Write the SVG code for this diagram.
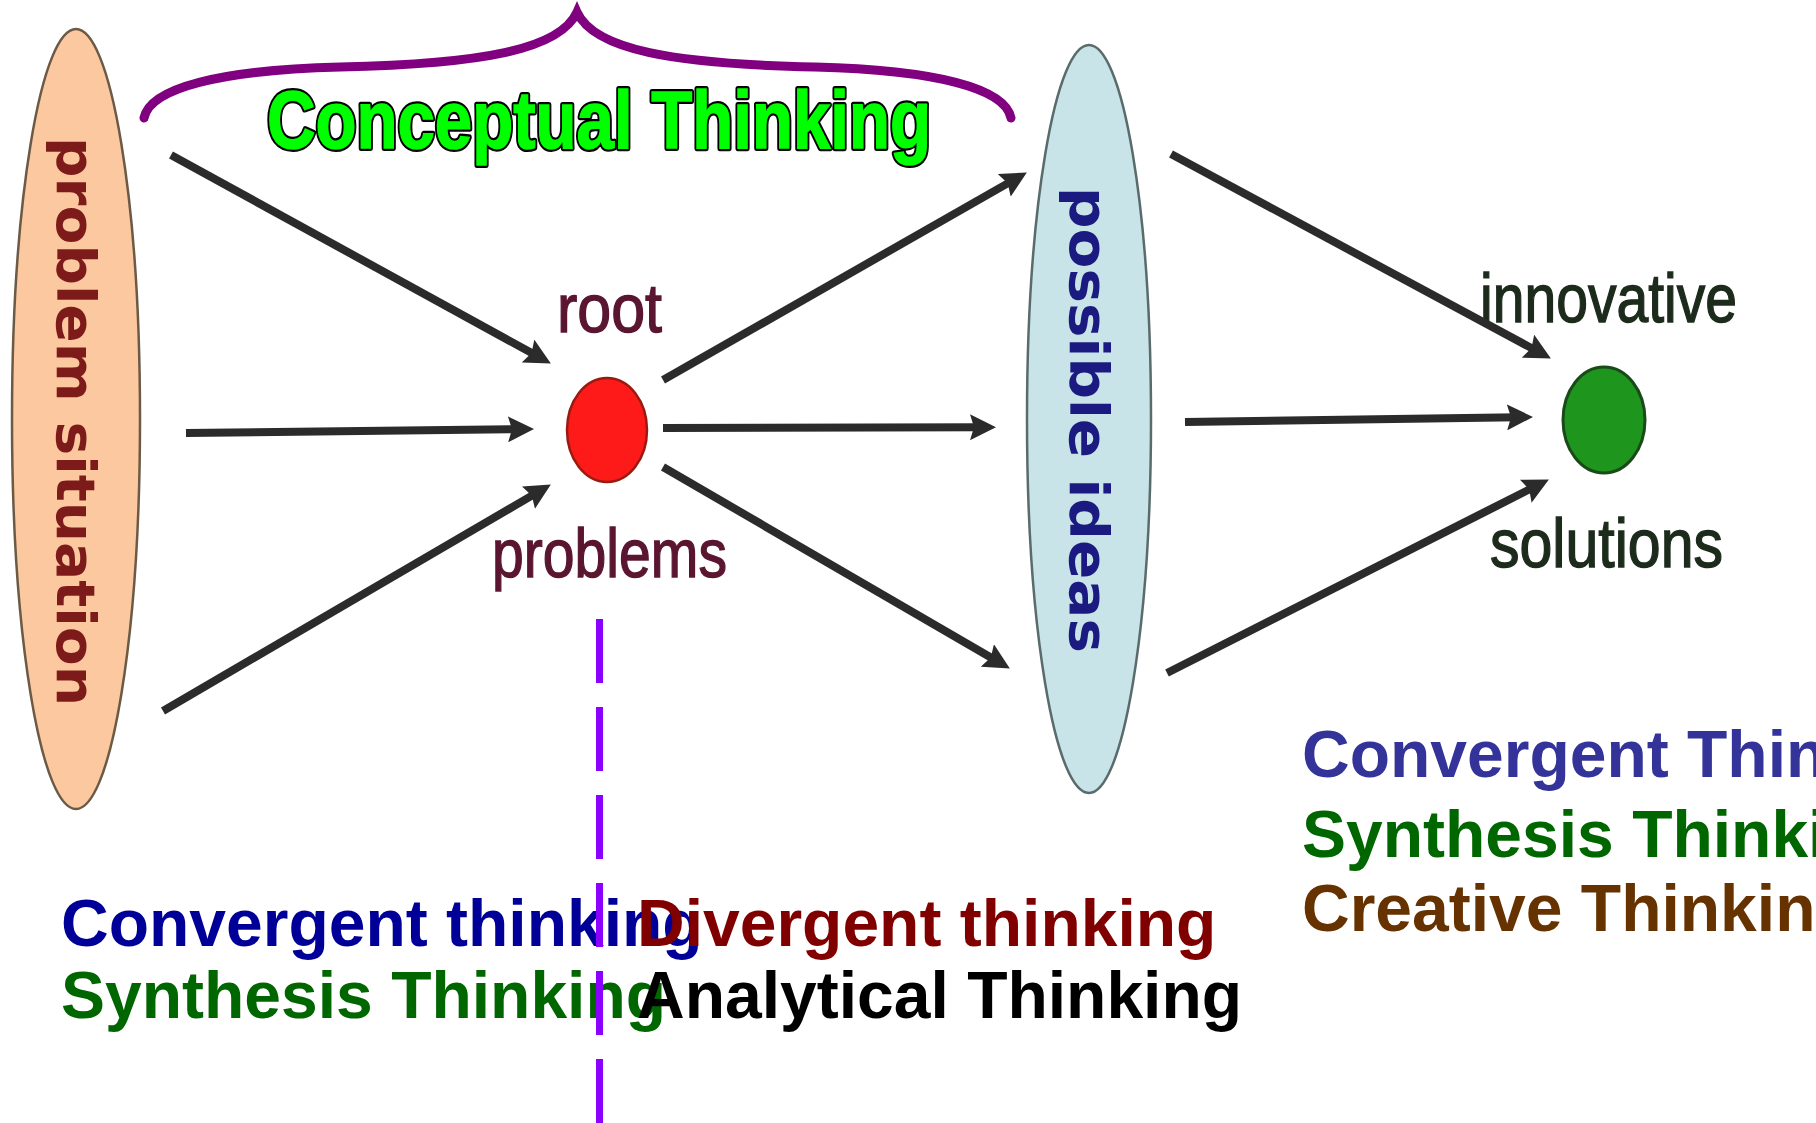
<svg xmlns="http://www.w3.org/2000/svg" width="1816" height="1123" viewBox="0 0 1816 1123">
<style>
.arrow{stroke:#2b2b2b;stroke-width:8;fill:none;marker-end:url(#head)}
.vert{font-family:"DejaVu Sans",Verdana,sans-serif;font-weight:bold;font-size:54px}
.lbl{font-family:"Liberation Sans",Arial,sans-serif;font-size:68px;stroke-width:1.4}
.big{font-family:"Liberation Sans",Arial,sans-serif;font-weight:bold;font-size:66px}
.title{font-family:"Liberation Sans",Arial,sans-serif;font-weight:bold;font-size:81px}
</style>
<defs>
<marker id="head" viewBox="0 0 26 26" refX="11" refY="13" markerWidth="26" markerHeight="26" markerUnits="userSpaceOnUse" orient="auto">
<path d="M0,0 L26,13 L0,26 L4,13 Z" fill="#2b2b2b"/>
</marker>
</defs>
<rect width="1816" height="1123" fill="#ffffff"/>

<g id="brace">
<path d="M144,118 C150,88 220,70 340,67 C480,64 560,50 577,12 C594,50 674,64 815,67 C935,70 1005,88 1011,118" fill="none" stroke="#800080" stroke-width="9" stroke-linecap="round"/>
<text class="title" x="267" y="148" textLength="664" lengthAdjust="spacingAndGlyphs" fill="#000000" stroke="#000000" stroke-width="6" stroke-linejoin="round">Conceptual Thinking</text>
<text class="title" x="267" y="148" textLength="664" lengthAdjust="spacingAndGlyphs" fill="#00ff00" stroke="#00ff00" stroke-width="1.5">Conceptual Thinking</text>
</g>

<g id="problem-situation">
<ellipse cx="76" cy="419" rx="64" ry="390" fill="#fbc8a0" stroke="#6b5a45" stroke-width="2.5"/>
<text class="vert" transform="translate(57,137) rotate(90)" x="0" y="0" fill="#7d1b1b" textLength="569" lengthAdjust="spacingAndGlyphs">problem situation</text>
</g>

<g id="root-problems">
<ellipse cx="607" cy="430" rx="40" ry="52" fill="#ff1a1a" stroke="#9a1a10" stroke-width="2.5"/>
<text class="lbl" x="557" y="332" fill="#5a1530" stroke="#5a1530" textLength="105" lengthAdjust="spacingAndGlyphs">root</text>
<text class="lbl" x="492" y="577" fill="#5a1530" stroke="#5a1530" textLength="235" lengthAdjust="spacingAndGlyphs">problems</text>
</g>

<g id="possible-ideas">
<ellipse cx="1089" cy="419" rx="62" ry="374" fill="#c8e4e8" stroke="#5a6b6b" stroke-width="2.5"/>
<text class="vert" transform="translate(1070,187) rotate(90)" x="0" y="0" fill="#1a1a80" textLength="466" lengthAdjust="spacingAndGlyphs">possible ideas</text>
</g>

<g id="innovative-solutions">
<ellipse cx="1604" cy="420" rx="41" ry="53" fill="#1e961e" stroke="#1a4a1a" stroke-width="3"/>
<text class="lbl" x="1480" y="322" fill="#1c2b1c" stroke="#1c2b1c" textLength="257" lengthAdjust="spacingAndGlyphs">innovative</text>
<text class="lbl" x="1490" y="567" fill="#1c2b1c" stroke="#1c2b1c" textLength="233" lengthAdjust="spacingAndGlyphs">solutions</text>
</g>

<g id="connectors">
<line class="arrow" x1="171" y1="155" x2="537.7" y2="356.3"/>
<line class="arrow" x1="186" y1="433" x2="519" y2="429.2"/>
<line class="arrow" x1="163" y1="711" x2="537.9" y2="492.1"/>
<line class="arrow" x1="663" y1="380" x2="1013.8" y2="179.9"/>
<line class="arrow" x1="663" y1="428" x2="981" y2="427.2"/>
<line class="arrow" x1="663" y1="467" x2="996.9" y2="661"/>
<line class="arrow" x1="1171" y1="154" x2="1537.7" y2="351.4"/>
<line class="arrow" x1="1185" y1="422" x2="1518" y2="417.2"/>
<line class="arrow" x1="1167" y1="673" x2="1535.5" y2="486.3"/>
</g>

<g id="left-labels">
<text class="big" x="61" y="946" fill="#000099">Convergent thinking</text>
<text class="big" x="61" y="1018" fill="#006600">Synthesis Thinking</text>
</g>
<g id="middle-labels">
<text class="big" x="637" y="946" fill="#800000">Divergent thinking</text>
<text class="big" x="637" y="1018" fill="#000000">Analytical Thinking</text>
</g>
<g id="right-labels">
<text class="big" x="1302" y="777" fill="#333399">Convergent Thinking</text>
<text class="big" x="1302" y="857" fill="#006600">Synthesis Thinking</text>
<text class="big" x="1302" y="931" fill="#663300">Creative Thinking</text>
</g>

<g id="divider">
<line x1="599.5" y1="619" x2="599.5" y2="1123" stroke="#8b00ff" stroke-width="7" stroke-dasharray="64 24"/>
</g>
</svg>
